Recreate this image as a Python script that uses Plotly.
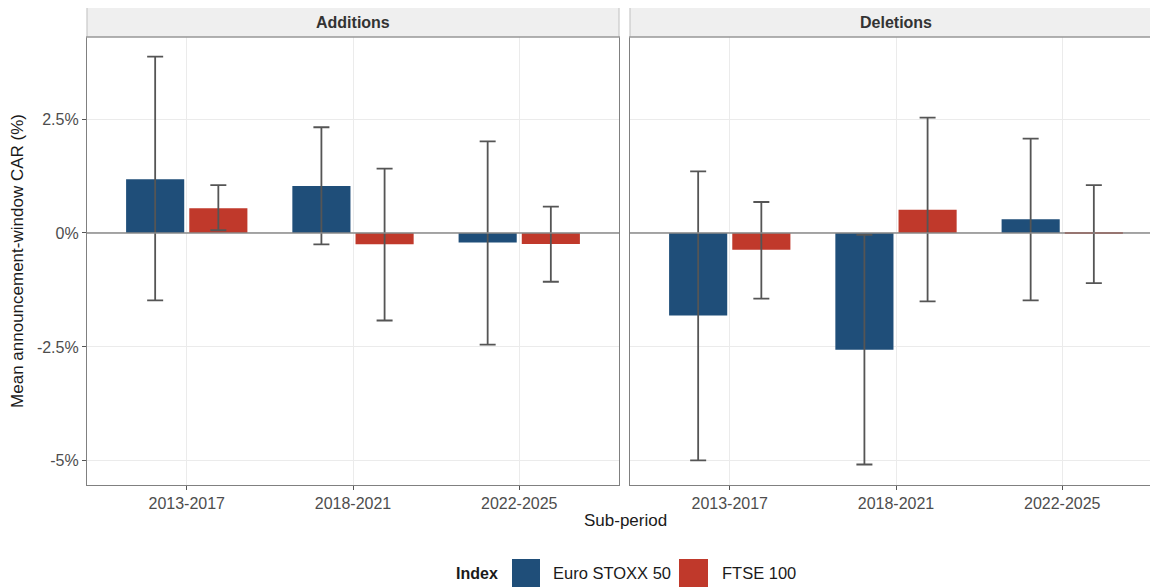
import plotly.graph_objects as go

categories = ["2013-2017", "2018-2021", "2022-2025"]
panels = ["Additions", "Deletions"]
series = ["Euro STOXX 50", "FTSE 100"]
colors = {"Euro STOXX 50": "#1F4E79", "FTSE 100": "#C0392B"}

# Additions
euro_add = [1.18, 1.03, -0.21]
euro_add_lo = [-1.48, -0.25, -2.45]
euro_add_hi = [3.87, 2.32, 2.01]
ftse_add = [0.54, -0.25, -0.24]
ftse_add_lo = [0.06, -1.92, -1.07]
ftse_add_hi = [1.05, 1.41, 0.58]

# Deletions
euro_del = [-1.81, -2.56, 0.30]
euro_del_lo = [-4.99, -5.08, -1.48]
euro_del_hi = [1.35, -0.04, 2.07]
ftse_del = [-0.37, 0.51, -0.02]
ftse_del_lo = [-1.44, -1.50, -1.10]
ftse_del_hi = [0.68, 2.53, 1.05]

ytick_vals = [-5, -2.5, 0, 2.5]
ytick_text = ["-5%", "-2.5%", "0%", "2.5%"]

data = {
    ("Additions", "Euro STOXX 50"): (euro_add, euro_add_lo, euro_add_hi),
    ("Additions", "FTSE 100"): (ftse_add, ftse_add_lo, ftse_add_hi),
    ("Deletions", "Euro STOXX 50"): (euro_del, euro_del_lo, euro_del_hi),
    ("Deletions", "FTSE 100"): (ftse_del, ftse_del_lo, ftse_del_hi),
}

# page body has an 8px margin; compensate
OFF = 8
W, H = 1154, 580
ML, MR, MT, MB = 79, 0, 29, 103
plot_w = W - ML - MR
plot_h = H - MT - MB
p1 = (0, 532 / plot_w)
p2 = (543 / plot_w, 1.0)


def px_x(X):
    return (X - OFF - ML) / plot_w


def px_y(Y):
    return 1 - (Y - OFF - MT) / plot_h


FONT = "Liberation Sans, Arial, sans-serif"
GRID = "#EBEBEB"
BORDER = "#808080"
TXT = "#4D4D4D"
DARK = "#1A1A1A"

fig = go.Figure()
for pi, panel in enumerate(panels):
    xa = "x" if pi == 0 else "x2"
    ya = "y" if pi == 0 else "y2"
    for s in series:
        vals, lo, hi = data[(panel, s)]
        fig.add_trace(go.Bar(
            x=categories, y=vals, name=s,
            marker=dict(color=colors[s], line=dict(width=0)),
            error_y=dict(type="data", symmetric=False,
                         array=[h - v for h, v in zip(hi, vals)],
                         arrayminus=[v - l for l, v in zip(lo, vals)],
                         color="#555555", thickness=1.8, width=8),
            xaxis=xa, yaxis=ya, legendgroup=s, showlegend=False,
        ))

axis_common = dict(showgrid=True, gridcolor=GRID, gridwidth=1, zeroline=False,
                   showline=True, linecolor=BORDER, linewidth=1.2, mirror=True,
                   tickcolor="#555555", ticklen=4,
                   tickfont=dict(family=FONT, size=16, color=TXT))

yrange = [-5.53, 4.30]
fig.update_layout(
    width=W, height=H,
    margin=dict(l=ML, r=MR, t=MT, b=MB),
    paper_bgcolor="white", plot_bgcolor="white",
    barmode="group", bargap=0.24, bargroupgap=0.08,
    font=dict(family=FONT, size=16, color=TXT),
    xaxis=dict(domain=list(p1), range=[-0.6, 2.6], type="category", ticks="outside", **axis_common),
    xaxis2=dict(domain=list(p2), range=[-0.6, 2.6], type="category", anchor="y2",
                ticks="outside", **axis_common),
    yaxis=dict(domain=[0, 1], range=yrange, tickvals=ytick_vals, ticktext=ytick_text,
               ticks="outside",
               title=dict(text="Mean announcement-window CAR (%)",
                          font=dict(family=FONT, size=17, color=DARK), standoff=10),
               **axis_common),
    yaxis2=dict(domain=[0, 1], range=yrange, tickvals=ytick_vals, showticklabels=False,
                anchor="x2", matches="y", ticks="", **axis_common),
    showlegend=False,
)

strip_h = 30 / plot_h
for pi, panel in enumerate(panels):
    xr = "x domain" if pi == 0 else "x2 domain"
    yr = "y domain" if pi == 0 else "y2 domain"
    # zero reference line
    fig.add_shape(type="line", xref=xr, yref="y" if pi == 0 else "y2",
                  x0=0, x1=1, y0=0, y1=0, line=dict(color="#8A8A8A", width=1.6), layer="above")
    # facet strip
    fig.add_shape(type="rect", xref=xr, yref=yr, x0=0, x1=1, y0=1, y1=1 + strip_h,
                  fillcolor="#EFEFEF", line=dict(color="#C8C8C8", width=1.2), layer="above")
    fig.add_shape(type="line", xref=xr, yref=yr, x0=0, x1=1, y0=1, y1=1,
                  line=dict(color=BORDER, width=1.2), layer="above")
    fig.add_annotation(xref=xr, yref=yr, x=0.5, y=1 + strip_h / 2, text=f"<b>{panel}</b>",
                       showarrow=False, font=dict(family=FONT, size=16, color="#333333"),
                       xanchor="center", yanchor="middle")

# x-axis title
fig.add_annotation(xref="paper", yref="paper", x=px_x(625), y=px_y(520),
                   text="Sub-period", showarrow=False, xanchor="center", yanchor="middle",
                   font=dict(family=FONT, size=17, color=DARK))

# legend (ggplot-style large keys)
leg_y = px_y(573)
fig.add_annotation(xref="paper", yref="paper", x=px_x(500), y=leg_y, text="<b>Index</b>",
                   showarrow=False, xanchor="right", yanchor="middle",
                   font=dict(family=FONT, size=16, color=DARK))
key_x = {"Euro STOXX 50": (512, 540, 551), "FTSE 100": (679, 708, 720)}
for s in series:
    x0, x1, tx = key_x[s]
    fig.add_shape(type="rect", xref="paper", yref="paper",
                  x0=px_x(x0), x1=px_x(x1), y0=px_y(587), y1=px_y(559),
                  fillcolor=colors[s], line=dict(width=0))
    fig.add_annotation(xref="paper", yref="paper", x=px_x(tx), y=leg_y, text=s,
                       showarrow=False, xanchor="left", yanchor="middle",
                       font=dict(family=FONT, size=16.5, color=DARK))

fig.write_html("out.html")
